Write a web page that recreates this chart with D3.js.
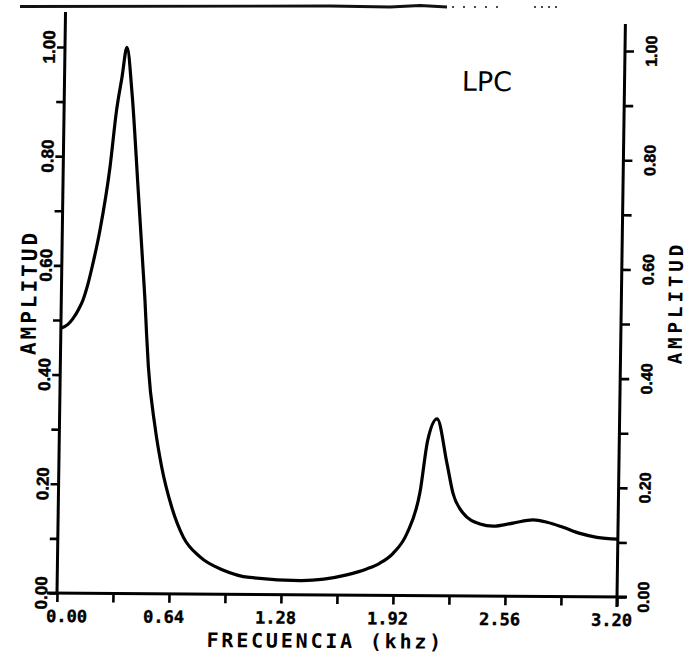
<!DOCTYPE html>
<html>
<head>
<meta charset="utf-8">
<script src="https://cdn.jsdelivr.net/npm/d3@7"></script>
<style>
  html, body { margin: 0; padding: 0; background: #fff; }
  svg { display: block; }
</style>
</head>
<body>
<div id="chart"></div>
<script>
// ---- data ----
const freqKhz = [0.000, 0.040, 0.069, 0.100, 0.124, 0.150, 0.173, 0.215, 0.267, 0.300, 0.328, 0.354,
  0.387, 0.429, 0.464, 0.478, 0.490, 0.503, 0.546, 0.587, 0.648, 0.717, 0.814, 0.949, 1.100, 1.390,
  1.654, 1.767, 1.843, 1.917, 1.995, 2.066, 2.105, 2.157, 2.217, 2.254, 2.313, 2.411, 2.486,
  2.600, 2.714, 2.794, 2.886, 2.983, 3.080, 3.200];
const amplitude = [0.485, 0.492, 0.503, 0.520, 0.537, 0.565, 0.597, 0.665, 0.780, 0.885, 0.945, 1.000,
  0.916, 0.744, 0.597, 0.538, 0.476, 0.416, 0.306, 0.233, 0.159, 0.104, 0.068, 0.044, 0.031, 0.026,
  0.037, 0.048, 0.059, 0.077, 0.114, 0.190, 0.284, 0.324, 0.243, 0.188, 0.152, 0.132, 0.128,
  0.134, 0.140, 0.136, 0.127, 0.116, 0.109, 0.106];
const xTickValues = [0, 0.32, 0.64, 0.96, 1.28, 1.60, 1.92, 2.24, 2.56, 2.88, 3.20];
const xLabelValues = [0, 0.64, 1.28, 1.92, 2.56, 3.20];
const xLabelTexts = ["0.00", "0.64", "1.28", "1.92", "2.56", "3.20"];
const yTickValues = [0, 0.1, 0.2, 0.3, 0.4, 0.5, 0.6, 0.7, 0.8, 0.9, 1.0];
const yLabelValues = [0, 0.2, 0.4, 0.6, 0.8, 1.0];
const yLabelTexts = ["0.00", "0.20", "0.40", "0.60", "0.80", "1.00"];
const xTitle = "FRECUENCIA (khz)";
const yTitle = "AMPLITUD";
const plotLabel = "LPC";

// ---- layout ----
const W = 691, H = 660;
const iw = 560, ih = 546;

const svg = d3.select("#chart").append("svg").attr("width", W).attr("height", H);

// scanned-page artefact along the top edge
const topLine = svg.append("g").attr("stroke", "#111").attr("fill", "none");
topLine.append("path").attr("d", "M20,6.5 L330,6 L390,7 L420,5.5 L447,7").attr("stroke-width", 2.8);
topLine.append("path").attr("d", "M452,7 L500,7").attr("stroke-width", 1.6).attr("stroke-dasharray", "2,9");
topLine.append("path").attr("d", "M534,7 L560,7").attr("stroke-width", 1.6).attr("stroke-dasharray", "2,5");

// plot group, slightly sheared/rotated like the scan
const g = svg.append("g").attr("transform", "matrix(1,0.00714,-0.01465,1,65,47)");

const x = d3.scaleLinear().domain([0, 3.2]).range([0, iw]);
const y = d3.scaleLinear().domain([0, 1]).range([ih, 0]);

const monoBold = "'DejaVu Sans Mono', monospace";
const sansBold = "'Liberation Sans', Arial, sans-serif";

// x axis
const xAxis = g.append("g").attr("transform", `translate(0,${ih})`)
  .call(d3.axisBottom(x).tickValues(xTickValues).tickSize(9).tickFormat(""));
xAxis.select(".domain").attr("d", `M-10,0H${iw + 10}`).attr("stroke-width", 3);
xAxis.selectAll(".tick line").attr("stroke-width", 2.6);

g.append("g").selectAll("text").data(xLabelValues).join("text")
  .attr("x", (d, i) => x(d) + (i === 0 ? 10 : -5))
  .attr("y", ih + 29)
  .attr("text-anchor", "middle")
  .attr("font-family", monoBold).attr("font-weight", "bold").attr("font-size", 17)
  .attr("stroke", "#000").attr("stroke-width", 0.4)
  .text((d, i) => xLabelTexts[i]);

// left y axis
const yLeft = g.append("g").call(d3.axisLeft(y).tickValues(yTickValues).tickSize(8).tickFormat(""));
yLeft.select(".domain").attr("d", `M0,${ih}V-35`).attr("stroke-width", 3);
yLeft.selectAll(".tick line").attr("stroke-width", 2.6);

g.append("g").selectAll("text").data(yLabelValues).join("text")
  .attr("transform", d => `translate(-10,${y(d)}) rotate(-90)`)
  .attr("text-anchor", "middle")
  .attr("font-family", sansBold).attr("font-weight", "bold").attr("font-size", 17)
  .attr("stroke", "#000").attr("stroke-width", 0.5)
  .text((d, i) => yLabelTexts[i]);

// right y axis
const yRight = g.append("g").attr("transform", `translate(${iw},0)`)
  .call(d3.axisRight(y).tickValues(yTickValues).tickSize(9).tickFormat(""));
yRight.select(".domain").attr("d", `M0,${ih + 10}V-27`).attr("stroke-width", 3);
yRight.selectAll(".tick line").attr("stroke-width", 2.6);

g.append("g").selectAll("text").data(yLabelValues).join("text")
  .attr("transform", d => `translate(${iw + 32},${y(d)}) rotate(-90)`)
  .attr("text-anchor", "middle")
  .attr("font-family", sansBold).attr("font-weight", "bold").attr("font-size", 16)
  .attr("stroke", "#000").attr("stroke-width", 0.5)
  .text((d, i) => yLabelTexts[i]);

// axis titles
g.append("text")
  .attr("x", 269).attr("y", ih + 53)
  .attr("text-anchor", "middle")
  .attr("font-family", monoBold).attr("font-weight", "bold").attr("font-size", 20)
  .attr("letter-spacing", 2.8)
  .text(xTitle);

g.append("text")
  .attr("transform", `translate(-25,${y(0.55)}) rotate(-90)`)
  .attr("text-anchor", "middle")
  .attr("font-family", monoBold).attr("font-weight", "bold").attr("font-size", 21)
  .attr("letter-spacing", 3)
  .text(yTitle);

g.append("text")
  .attr("transform", `translate(${iw + 61},${y(0.54)}) rotate(-90)`)
  .attr("text-anchor", "middle")
  .attr("font-family", monoBold).attr("font-weight", "bold").attr("font-size", 19)
  .attr("letter-spacing", 4)
  .text(yTitle);

// LPC label
g.append("text")
  .attr("x", x(2.27)).attr("y", y(0.925))
  .attr("font-family", "'DejaVu Sans', sans-serif").attr("font-size", 27)
  .text(plotLabel);

// curve
const pts = freqKhz.map((f, i) => [f, amplitude[i]]);
const line = d3.line().x(d => x(d[0])).y(d => y(d[1])).curve(d3.curveMonotoneX);
g.append("path").datum(pts)
  .attr("d", line)
  .attr("fill", "none")
  .attr("stroke", "#000")
  .attr("stroke-width", 3.2)
  .attr("stroke-linejoin", "round");
</script>
</body>
</html>
